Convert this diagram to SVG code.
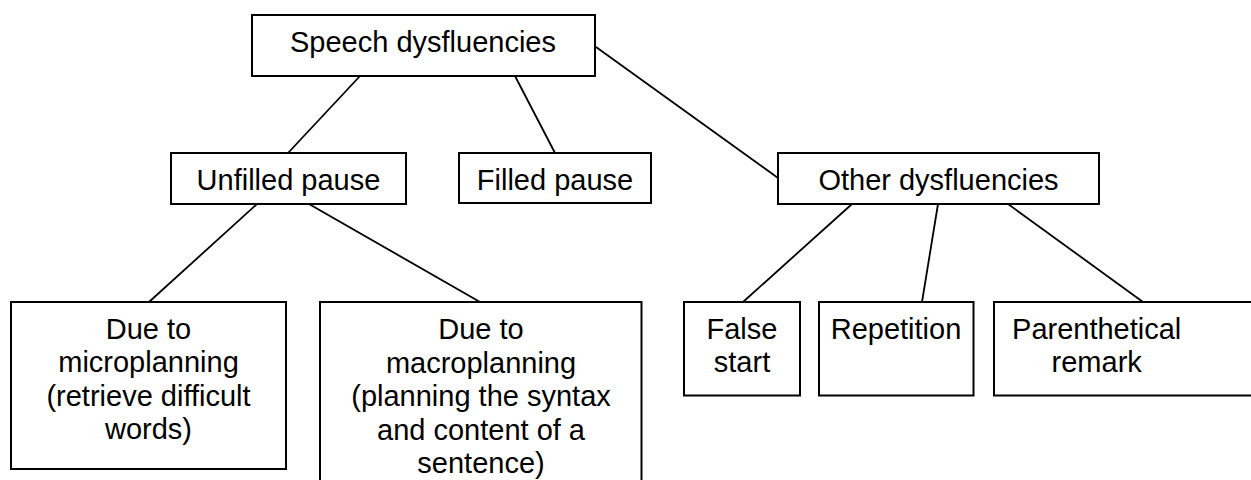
<svg xmlns="http://www.w3.org/2000/svg" width="1251" height="480" viewBox="0 0 1251 480">
<style>
.box{fill:#fff;stroke:#000;stroke-width:2}
.edge{stroke:#000;stroke-width:1.8;fill:none}
text{font-family:"Liberation Sans",Arial,sans-serif;font-size:29px;fill:#000;text-anchor:middle}
</style>
<rect width="1251" height="480" fill="#fff"/>
<g id="connectors">
<line class="edge" x1="360" y1="76" x2="288" y2="153"/>
<line class="edge" x1="515" y1="76" x2="555" y2="153"/>
<line class="edge" x1="596" y1="47" x2="778" y2="178"/>
<line class="edge" x1="257" y1="204" x2="149" y2="302"/>
<line class="edge" x1="309" y1="204" x2="480" y2="302"/>
<line class="edge" x1="852" y1="204" x2="743" y2="302"/>
<line class="edge" x1="938" y1="204" x2="922" y2="302"/>
<line class="edge" x1="1008" y1="204" x2="1143" y2="302"/>
</g>
<g id="root">
<rect class="box" x="252" y="15" width="343" height="61"/>
<text x="423" y="52">Speech dysfluencies</text>
</g>
<g id="unfilled">
<rect class="box" x="171" y="153" width="235" height="51"/>
<text x="288.5" y="190">Unfilled pause</text>
</g>
<g id="filled">
<rect class="box" x="459" y="153" width="192" height="50"/>
<text x="555" y="190">Filled pause</text>
</g>
<g id="other">
<rect class="box" x="778" y="153" width="321" height="51"/>
<text x="938.5" y="190">Other dysfluencies</text>
</g>
<g id="micro">
<rect class="box" x="11" y="302" width="275" height="167"/>
<text x="148.5" y="339">Due to</text>
<text x="148.5" y="372.3">microplanning</text>
<text x="148.5" y="405.6">(retrieve difficult</text>
<text x="148.5" y="439">words)</text>
</g>
<g id="macro">
<rect class="box" x="320" y="302" width="321.5" height="200"/>
<text x="481" y="339">Due to</text>
<text x="481" y="372.5">macroplanning</text>
<text x="481" y="406">(planning the syntax</text>
<text x="481" y="439.5">and content of a</text>
<text x="481" y="473">sentence)</text>
</g>
<g id="falsestart">
<rect class="box" x="684" y="302" width="116" height="93.5"/>
<text x="742" y="339">False</text>
<text x="742" y="372.3">start</text>
</g>
<g id="repetition">
<rect class="box" x="819" y="302" width="154.5" height="93.5"/>
<text x="896" y="339">Repetition</text>
</g>
<g id="parenthetical">
<rect class="box" x="994" y="302" width="270" height="93.5"/>
<text x="1096.7" y="339">Parenthetical</text>
<text x="1096.7" y="372.3">remark</text>
</g>
</svg>
